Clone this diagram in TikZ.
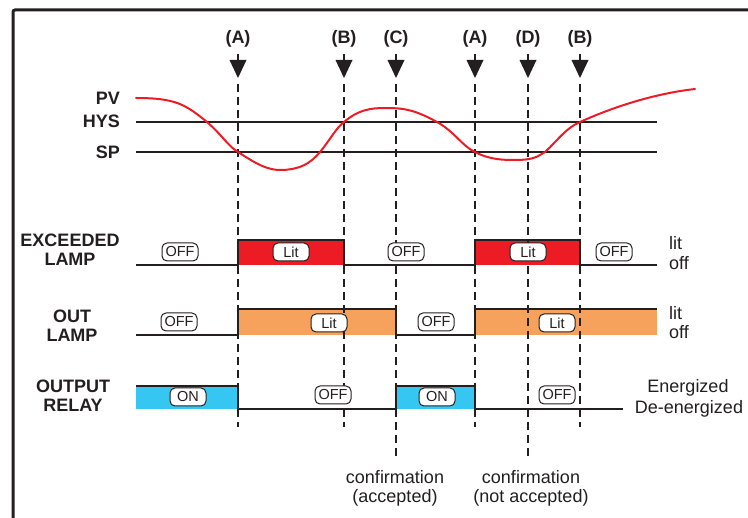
\documentclass[tikz,border=0pt]{standalone}
\usepackage{fontspec}
\setmainfont{Liberation Sans}
\definecolor{ink}{HTML}{231F20}
\definecolor{pvred}{HTML}{ED1C24}
\definecolor{exred}{HTML}{ED1C24}
\definecolor{outor}{HTML}{F7A25C}
\definecolor{relbl}{HTML}{36C6F2}
\tikzset{
  mlabel/.style={font=\fontsize{18}{20}\selectfont\bfseries, text=ink, inner sep=0pt},
  sig/.style={font=\fontsize{18}{20}\selectfont\bfseries, text=ink, align=center, inner sep=0pt},
  rlab/.style={font=\fontsize{18}{20}\selectfont, text=ink, inner sep=0pt},
  badge/.style={draw=ink, line width=1pt, fill=white, rounded corners=5pt,
    minimum width=36pt, minimum height=18pt, inner sep=1pt,
    font=\fontsize{14.5}{14.5}\selectfont, text=ink},
  dashline/.style={draw=ink, line width=1.5pt, dash pattern=on 8pt off 5pt},
  hline/.style={draw=ink, line width=1.4pt},
  wave/.style={draw=ink, line width=1.6pt},
  markstem/.style={draw=ink, line width=1.5pt},
}
\begin{document}
\begin{tikzpicture}[x=1pt,y=-1pt]
\useasboundingbox (0,0) rectangle (748,518);
% frame
\draw[ink, line width=3pt, rounded corners=2pt] (13,518) -- (13,10) -- (748,10);

% fills
\fill[exred] (238,240) rectangle (344,265);
\fill[exred] (475,240) rectangle (580,265);
\fill[outor] (238,309) rectangle (396,335);
\fill[outor] (475,309) rectangle (657,335);
\fill[relbl] (136,386) rectangle (238,409);
\fill[relbl] (396,386) rectangle (475,409);

% markers and dashed lines
\foreach \x/\l/\i/\yb in {238/A/1/427, 344/B/2/427, 396/C/3/457, 475/A/4/427, 528/D/5/457, 580/B/6/427} {
  \node[mlabel] (lab\i) at (\x,39) {(\l)};
  \coordinate (st\i) at (\x,54);
  \coordinate (tip\i) at (\x,78);
  \coordinate (bot\i) at (\x,\yb);
  \draw[markstem] (st\i) -- (\x,61);
  \fill[ink] (\x-8.5,60) -- (\x+8.5,60) -- (tip\i) -- cycle;
  \draw[dashline] (\x,84) -- (bot\i);
}

% PV / HYS / SP
\node[mlabel, anchor=east] (pv) at (120,98) {PV};
\node[mlabel, anchor=east] (hys) at (120,121) {HYS};
\node[mlabel, anchor=east] (sp) at (120,152) {SP};
\coordinate (hysL) at (136,122); \coordinate (hysR) at (657,122);
\coordinate (spL) at (136,152); \coordinate (spR) at (657,152);
\draw[hline] (hysL) -- (hysR);
\draw[hline] (spL) -- (spR);

% PV curve
\draw[pvred, line width=2pt, line cap=round]
  (136,98) .. controls (175,98) and (185,104) .. (207,122)
  .. controls (222,135) and (228,146) .. (238,152)
  .. controls (255,163) and (268,171) .. (283,170)
  .. controls (300,169) and (310,164) .. (320,152)
  .. controls (330,140) and (336,128) .. (344,122)
  .. controls (358,110) and (370,108) .. (385,108)
  .. controls (405,108) and (415,110) .. (437,122)
  .. controls (455,132) and (462,146) .. (475,152)
  .. controls (490,160) and (505,160) .. (515,160)
  .. controls (535,160) and (538,156) .. (545,152)
  .. controls (558,140) and (566,128) .. (580,122)
  .. controls (620,104) and (660,93) .. (695,89);

% signal names
\node[sig] (exc) at (70,250) {EXCEEDED\\[-1pt]LAMP};
\node[sig] (outl) at (72,326) {OUT\\[-1pt]LAMP};
\node[sig] (rel) at (73,396) {OUTPUT\\[-1pt]RELAY};

% waveforms
\draw[wave] (136,265) -- (238,265) -- (238,240) -- (344,240) -- (344,265) -- (475,265) -- (475,240) -- (580,240) -- (580,265) -- (657,265);
\draw[wave] (136,335) -- (238,335) -- (238,309) -- (396,309) -- (396,335) -- (475,335) -- (475,309) -- (657,309);
\draw[wave] (136,386) -- (238,386) -- (238,409) -- (396,409) -- (396,386) -- (475,386) -- (475,409) -- (623,409);

% badges
\node[badge] (e1) at (180,252) {OFF};
\node[badge] (e2) at (291,252) {Lit};
\node[badge] (e3) at (406,252) {OFF};
\node[badge] (e4) at (528,252) {Lit};
\node[badge] (e5) at (614,252) {OFF};
\node[badge] (o1) at (179,322) {OFF};
\node[badge] (o2) at (329,323) {Lit};
\node[badge] (o3) at (436,322) {OFF};
\node[badge] (o4) at (557,323) {Lit};
\node[badge] (r1) at (188,397) {ON};
\node[badge] (r2) at (333,395) {OFF};
\node[badge] (r3) at (437,397) {ON};
\node[badge] (r4) at (557,395) {OFF};

% right labels
\node[rlab, anchor=west] (lit1) at (669,243) {lit};
\node[rlab, anchor=west] (off1) at (669,263) {off};
\node[rlab, anchor=west] (lit2) at (669,313) {lit};
\node[rlab, anchor=west] (off2) at (669,332) {off};
\node[rlab] (ener) at (688,388) {Energized};
\node[rlab] (deen) at (689,409) {De-energized};

% bottom labels
\node[rlab, align=center] (conf1) at (395,488) {confirmation\\[-1pt](accepted)};
\node[rlab, align=center] (conf2) at (531,488) {confirmation\\[-1pt](not accepted)};
\end{tikzpicture}
\end{document}
